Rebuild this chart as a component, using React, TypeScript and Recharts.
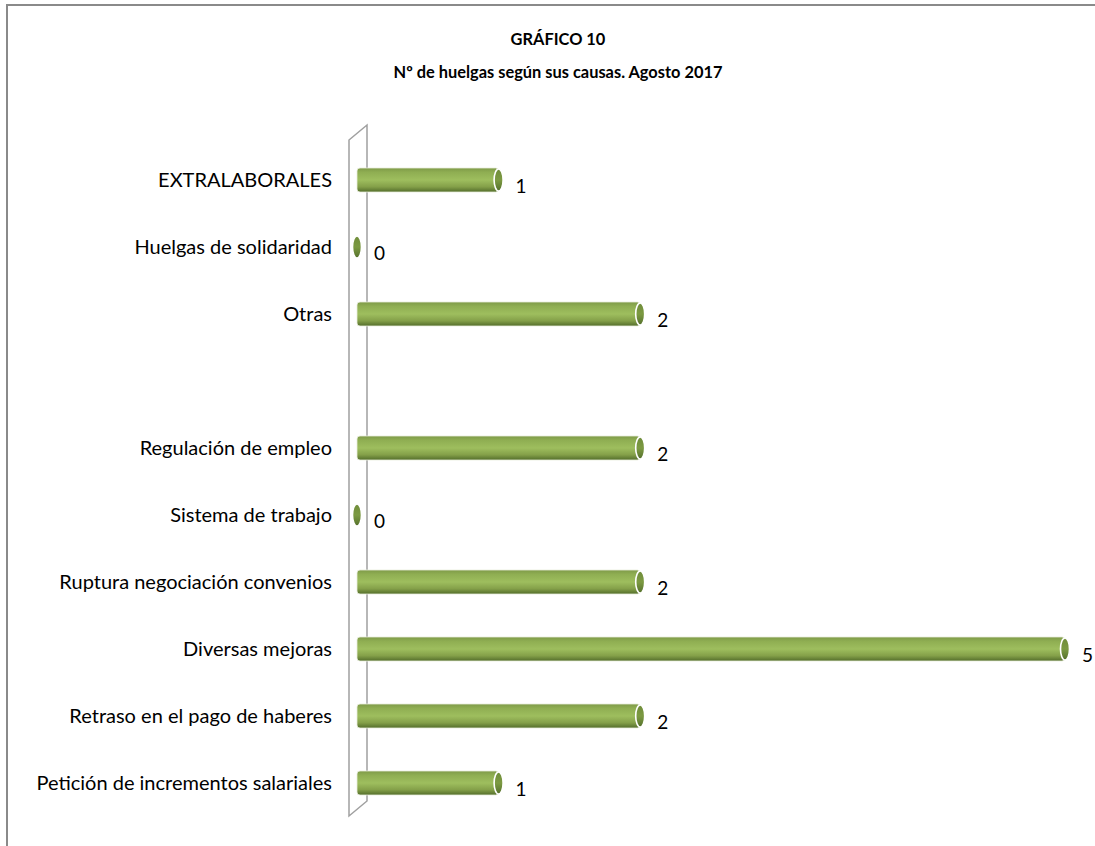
import { BarChart, Bar, XAxis, YAxis, LabelList, Customized, usePlotArea } from 'recharts'

const categories = [
  'EXTRALABORALES',
  'Huelgas de solidaridad',
  'Otras',
  ' ',
  'Regulación de empleo',
  'Sistema de trabajo',
  'Ruptura negociación convenios',
  'Diversas mejoras ',
  'Retraso en el pago de haberes',
  'Petición de incrementos salariales',
]
const huelgas: (number | null)[] = [1, 0, 2, null, 2, 0, 2, 5, 2, 1]

const data = categories.map((name, i) => ({ name, value: huelgas[i] }))

const FONT = 'Lato, "Open Sans", sans-serif'

// cylinder bar with an elliptical end cap
function Cylinder(props: any) {
  const { x, y, width, height, value } = props
  if (value === null || value === undefined) return null
  const w = Math.max(0, width)
  const ry = height / 2
  const cx = x + w
  return (
    <g>
      {w > 0 && (
        <rect x={x} y={y} width={w} height={height} rx={3} ry={3}
          fill="url(#cyl)" stroke="#e8eedc" strokeWidth={0.8} />
      )}
      <ellipse cx={cx} cy={y + ry} rx={4.5} ry={ry - 1}
        fill="url(#cap)" stroke="#ffffff" strokeWidth={1.6} />
    </g>
  )
}

// the little 3d wall behind the category axis
function Wall() {
  const area = usePlotArea()
  if (!area) return null
  const front = area.x - 8
  const back = area.x + 10
  const top = area.y
  const bottom = area.y + area.height
  return (
    <g fill="none" stroke="#a0a0a0" strokeWidth={1.5}>
      <polygon
        points={`${front},${top - 6} ${back},${top - 21} ${back},${bottom - 15} ${front},${bottom}`}
        fill="#ffffff"
      />
    </g>
  )
}

export default function App() {
  return (
    <div style={{ position: 'absolute', left: 0, top: 0, width: 1095, height: 846, overflow: 'hidden', background: '#fff' }}>
      <div style={{
        position: 'absolute', left: 6, top: 4, width: 1200, height: 1000,
        borderLeft: '2px solid #8a8a8a', borderTop: '2px solid #8a8a8a',
      }} />
      <div style={{
        position: 'absolute', left: 0, width: 1116, top: 22, textAlign: 'center',
        fontFamily: FONT, fontWeight: 700, fontSize: 16.4, lineHeight: '33px', color: '#000',
      }}>
        <div>GRÁFICO 10</div>
        <div>Nº de huelgas según sus causas. Agosto 2017</div>
      </div>
      <div style={{ position: 'absolute', left: 0, top: 0 }}>
        <BarChart width={1095} height={846} data={data} layout="vertical"
          margin={{ top: 146, right: 30, bottom: 30, left: 0 }} barSize={24}>
          <defs>
            <linearGradient id="cyl" x1="0" y1="0" x2="0" y2="1">
              <stop offset="0%" stopColor="#7e9a48" />
              <stop offset="18%" stopColor="#8fae52" />
              <stop offset="50%" stopColor="#9ebe5e" />
              <stop offset="78%" stopColor="#84a049" />
              <stop offset="100%" stopColor="#536d2b" />
            </linearGradient>
            <linearGradient id="cap" x1="0" y1="0" x2="0" y2="1">
              <stop offset="0%" stopColor="#6f8c3a" />
              <stop offset="50%" stopColor="#7c9a42" />
              <stop offset="100%" stopColor="#55702c" />
            </linearGradient>
          </defs>
          <Customized component={Wall} />
          <XAxis type="number" domain={[0, 5]} hide />
          <YAxis type="category" dataKey="name" width={357} axisLine={false} tickLine={false}
            tickSize={0} tickMargin={25}
            tick={{ fill: '#000', fontSize: 20, fontFamily: FONT }} />
          <Bar dataKey="value" shape={<Cylinder />} isAnimationActive={false}>
            <LabelList dataKey="value" position="right" offset={17} dy={6}
              style={{ fill: '#000', fontSize: 19, fontFamily: FONT }} />
          </Bar>
        </BarChart>
      </div>
    </div>
  )
}
